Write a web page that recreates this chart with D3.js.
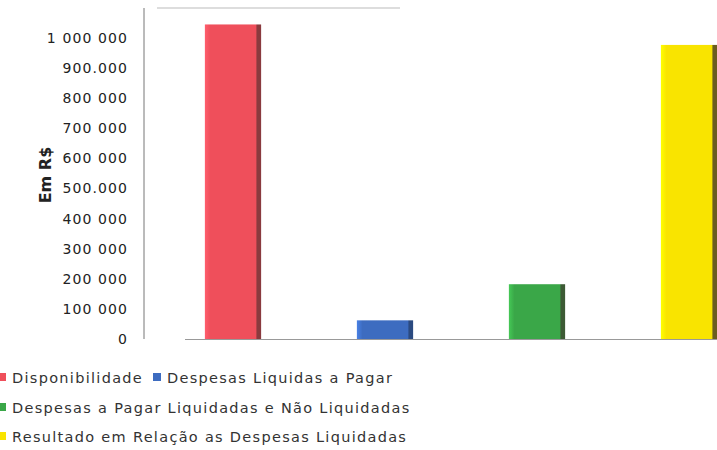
<!DOCTYPE html>
<html><head><meta charset="utf-8">
<script src="https://cdn.jsdelivr.net/npm/d3@7"></script>
<style>body{margin:0;background:#fff}svg{display:block}</style>
</head><body>
<svg id="c" width="717" height="450"></svg>
<script>
const categories = ["Disponibilidade","Despesas Liquidas a Pagar","Despesas a Pagar Liquidadas e Não Liquidadas","Resultado em Relação as Despesas Liquidadas"];
const values = [1045000, 62000, 182000, 977000];
const colors = ["#ef4f5b","#3d6cc0","#3aa748","#f9e400"];
const darkColors = ["#8a3a3e","#2b4a80","#3d5a35","#6a5e20"];
const tickValues = [0,100000,200000,300000,400000,500000,600000,700000,800000,900000,1000000];
const tickLabels = ["0","100 000","200 000","300 000","400 000","500.000","600 000","700 000","800 000","900.000","1 000 000"];

const svg = d3.select("#c");
const y = d3.scaleLinear().domain([0,1000000]).range([339,38]);
const x = d3.scaleBand().domain(categories).range([157,765]).paddingInner(0.63).paddingOuter(0.315);

const defs = svg.append("defs");
categories.forEach((c,i)=>{
  const g = defs.append("linearGradient").attr("id","g"+i).attr("x1","0").attr("x2","1").attr("y1","0").attr("y2","0");
  g.append("stop").attr("offset","0").attr("stop-color",d3.color(colors[i]).brighter(0.5));
  g.append("stop").attr("offset","0.1").attr("stop-color",colors[i]);
  g.append("stop").attr("offset","0.9").attr("stop-color",colors[i]);
  g.append("stop").attr("offset","0.93").attr("stop-color",darkColors[i]);
  g.append("stop").attr("offset","1").attr("stop-color",darkColors[i]);
});

// y axis
const yAxis = d3.axisLeft(y).tickValues(tickValues).tickFormat((d,i)=>tickLabels[i]).tickSize(0).tickPadding(16);
const ga = svg.append("g").attr("transform","translate(144,0)").call(yAxis);
ga.select(".domain").attr("stroke","#777").attr("stroke-width",1).attr("d","M0,8V339");
ga.selectAll("text").attr("font-family","DejaVu Sans").attr("font-size",14).attr("letter-spacing","1.1px").attr("fill","#222");

// top line & baseline
svg.append("line").attr("x1",157).attr("x2",400).attr("y1",8).attr("y2",8).attr("stroke","#bbb");
svg.append("line").attr("x1",185).attr("x2",717).attr("y1",339.5).attr("y2",339.5).attr("stroke","#999");

// bars
svg.selectAll("rect.bar").data(values).join("rect").attr("class","bar")
  .attr("x",(d,i)=>x(categories[i])).attr("width",x.bandwidth())
  .attr("y",d=>y(d)).attr("height",d=>y(0)-y(d))
  .attr("fill",(d,i)=>`url(#g${i})`);

// y title
svg.append("text").attr("transform","translate(51,175) rotate(-90)").attr("text-anchor","middle")
  .attr("font-family","DejaVu Sans").attr("font-weight","bold").attr("font-size",16).attr("fill","#222").text("Em R$");

// legend
const legendPos = [[0,378],[155,378],[0,408],[0,437]];
const lg = svg.selectAll("g.leg").data(categories).join("g").attr("class","leg")
  .attr("transform",(d,i)=>`translate(${legendPos[i][0]},${legendPos[i][1]})`);
lg.append("rect").attr("x",-2).attr("y",-5).attr("width",8).attr("height",8).attr("fill",(d,i)=>colors[i]);
lg.append("text").attr("x",12).attr("y",0).attr("dy","0.35em").attr("font-family","DejaVu Sans").attr("font-size",14.5).attr("letter-spacing","1.3px").attr("fill","#333").text(d=>d);
</script>
</body></html>
